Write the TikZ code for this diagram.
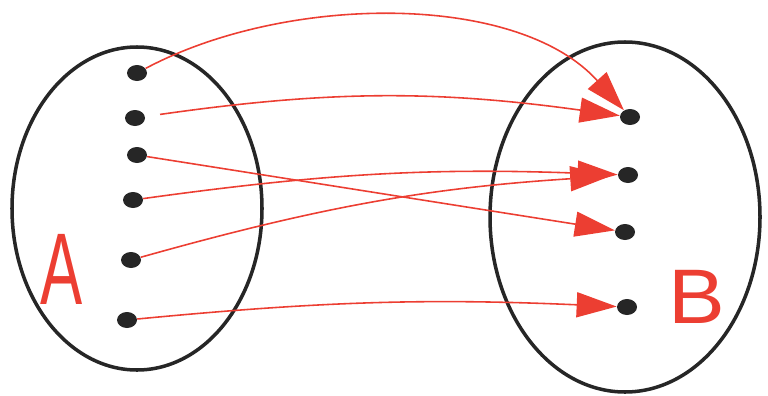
\documentclass[tikz,border=0pt]{standalone}
\usepackage{fontspec}
\setsansfont{Liberation Sans}
\usetikzlibrary{shapes.geometric, arrows.meta}
\definecolor{penred}{RGB}{236,62,50}
\definecolor{penblack}{RGB}{38,38,38}
\begin{document}
\begin{tikzpicture}[
  dot/.style={ellipse, fill=penblack, minimum width=4mm, minimum height=3.2mm, inner sep=0pt},
  set oval/.style={draw=penblack, line width=2pt},
  map/.style={draw=penred, line width=0.9pt, -{Triangle[length=8mm, width=5mm]}},
  letter/.style={text=penred, transform shape}
]
\useasboundingbox (0,0) rectangle (15.36,7.9);

% Set A
\draw[set oval] (2.74,3.73) ellipse [x radius=2.5, y radius=3.23];
\node[dot] (a1) at (2.74,6.44) {};
\node[dot] (a2) at (2.70,5.54) {};
\node[dot] (a3) at (2.74,4.80) {};
\node[dot] (a4) at (2.66,3.90) {};
\node[dot] (a5) at (2.62,2.70) {};
\node[dot] (a6) at (2.54,1.50) {};
\node[letter, font=\sffamily\fontsize{58}{58}\selectfont, xscale=0.62] (labA) at (1.24,2.52) {A};

% Set B
\draw[set oval] (12.50,3.56) ellipse [x radius=2.7, y radius=3.5];
\node[dot] (b1) at (12.60,5.56) {};
\node[dot] (b2) at (12.56,4.40) {};
\node[dot] (b3) at (12.50,3.26) {};
\node[dot] (b4) at (12.54,1.76) {};
\node[letter, font=\sffamily\fontsize{44}{44}\selectfont, xscale=1.1] (labB) at (13.94,1.96) {B};

% the mapping
\draw[map] (a1) to[out=28, in=132, looseness=0.85] (b1);
\draw[map, shorten <=3mm] (a2) to[bend left=8] (b1);
\draw[map] (a3) -- (b3);
\draw[map] (a4) to[bend left=5] (b2);
\draw[map, shorten >=1.5mm] (a5) to[bend left=6] (b2);
\draw[map] (a6) to[bend left=4] (b4);

\end{tikzpicture}
\end{document}
